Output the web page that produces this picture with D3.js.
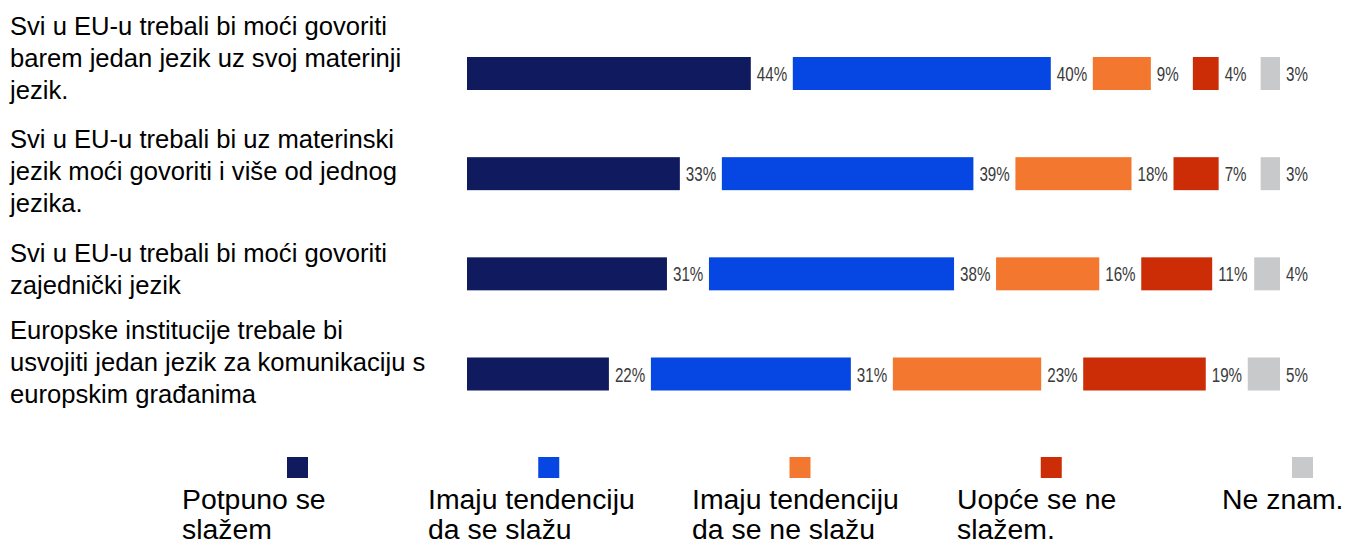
<!DOCTYPE html>
<html><head><meta charset="utf-8">
<script src="https://cdn.jsdelivr.net/npm/d3@7"></script>
<style>body{margin:0;background:#fff;}svg{display:block;}</style>
</head><body>
<svg id="c" width="1347" height="546"></svg>
<script>
const categories = [
  ["Svi u EU-u trebali bi moći govoriti", "barem jedan jezik uz svoj materinji", "jezik."],
  ["Svi u EU-u trebali bi uz materinski", "jezik moći govoriti i više od jednog", "jezika."],
  ["Svi u EU-u trebali bi moći govoriti", "zajednički jezik"],
  ["Europske institucije trebale bi", "usvojiti jedan jezik za komunikaciju s", "europskim građanima"]
];
const seriesNames = [["Potpuno se","slažem"],["Imaju tendenciju","da se slažu"],["Imaju tendenciju","da se ne slažu"],["Uopće se ne","slažem."],["Ne znam."]];
const potpuno = [44, 33, 31, 22];
const tendSlazu = [40, 39, 38, 31];
const tendNeSlazu = [9, 18, 16, 23];
const uopce = [4, 7, 11, 19];
const neZnam = [3, 3, 4, 5];
const series = [potpuno, tendSlazu, tendNeSlazu, uopce, neZnam];
const colors = ["#101b5f", "#0646e2", "#f47730", "#cc2d06", "#c8c9cb"];

const svg = d3.select("#c");
const gap = 42;
const x = d3.scaleLinear().domain([0, 100]).range([467, 1280 - 4 * gap]);
const y = d3.scalePoint().domain(d3.range(categories.length)).range([73.5, 374]);
const barH = 33;
const labelFirstBaseline = [35, 148, 262, 339];
const lineH = 32;

// left labels
categories.forEach((lines, i) => {
  const t = svg.append("text").attr("font-family", "Liberation Sans, Arial, sans-serif")
    .attr("font-size", 25.6).attr("fill", "#000");
  lines.forEach((l, j) => t.append("tspan").attr("x", 10).attr("y", labelFirstBaseline[i] + j * lineH).text(l));
});

// bars
categories.forEach((c, i) => {
  let cum = 0;
  series.forEach((s, k) => {
    const v = s[i];
    const x0 = x(cum) + k * gap;
    const x1 = x(cum + v) + k * gap;
    svg.append("rect").attr("x", x0).attr("y", y(i) - barH / 2)
      .attr("width", x1 - x0).attr("height", barH).attr("fill", colors[k]);
    svg.append("text").attr("font-family", "Liberation Sans, Arial, sans-serif")
      .attr("font-size", 20.5).attr("fill", "#3a3a3a")
      .attr("transform", `translate(${x1 + 6},${y(i) + 7.5}) scale(0.74,1)`)
      .text(v + "%");
    cum += v;
  });
});

// legend
const legSq = d3.scaleLinear().domain([0, 4]).range([287, 1292]);
const legTextX = [182, 428, 692, 957, 1222];
seriesNames.forEach((n, k) => {
  svg.append("rect").attr("x", legSq(k)).attr("y", 457).attr("width", 21).attr("height", 21).attr("fill", colors[k]);
  const t = svg.append("text").attr("font-family", "Liberation Sans, Arial, sans-serif")
    .attr("font-size", 28.4).attr("fill", "#000");
  n.forEach((l, j) => t.append("tspan").attr("x", legTextX[k]).attr("y", 509 + j * 30).text(l));
});
</script>
</body></html>
